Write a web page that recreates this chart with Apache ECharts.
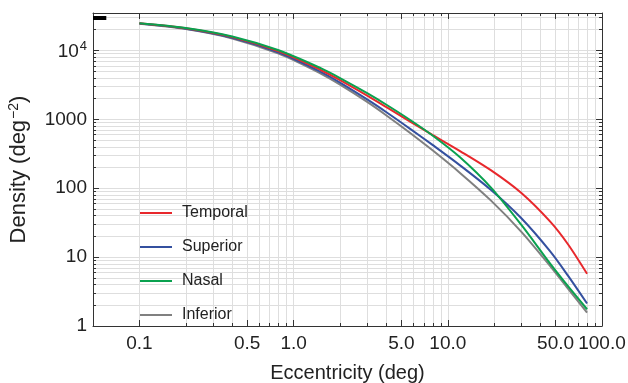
<!DOCTYPE html>
<html>
<head>
<meta charset="utf-8">
<script src="https://cdn.jsdelivr.net/npm/echarts@6/dist/echarts.min.js"></script>
<style>
  html, body { margin: 0; padding: 0; background: #ffffff; }
  #chart { width: 628px; height: 383px; }
</style>
</head>
<body>
<div id="chart"></div>
<script>
// Midget ganglion-cell receptive-field density along four meridians (deg^-2)
const eccentricity = [0.1, 0.2, 0.4, 0.8, 1.5, 2, 3, 4, 5.7, 8, 12, 19, 30, 46, 60, 80];
const temporal = [24750, 20970, 15640, 9690, 5210, 3710, 2210, 1500, 927, 590, 347, 183, 85.3, 33.0, 15.5, 5.72];
const superior = [24590, 20750, 15340, 9360, 4900, 3420, 1950, 1270, 729, 422, 215, 94.8, 36.6, 12.2, 5.43, 2.12];
const nasal = [24880, 21210, 15980, 10060, 5530, 3980, 2400, 1630, 980, 579, 282, 103, 29.3, 8.1, 3.81, 1.75];
const inferior = [24400, 20450, 14960, 8980, 4620, 3190, 1790, 1140, 635, 352, 167, 66.6, 23.3, 7.47, 3.52, 1.56];

// Peak density at the foveal centre, shown as a short bar at the left edge
const peakDensity = 29600;
const peakSpan = [0.05, 0.061];

// Axis ticks and grid lines
const xTickValues = [0.1, 0.5, 1, 5, 10, 50, 100];
const xGridValues = [0.1, 0.2, 0.3, 0.4, 0.5, 0.6, 0.7, 0.8, 0.9,
                     1, 2, 3, 4, 5, 6, 7, 8, 9,
                     10, 20, 30, 40, 50, 60, 70, 80, 90];
const yTickValues = [1, 10, 100, 1000, 10000];
const yGridValues = [2, 3, 4, 5, 6, 7, 8, 9,
                     10, 20, 30, 40, 50, 60, 70, 80, 90,
                     100, 200, 300, 400, 500, 600, 700, 800, 900,
                     1000, 2000, 3000, 4000, 5000, 6000, 7000, 8000, 9000,
                     10000, 20000, 30000];

const seriesNames = ['Temporal', 'Superior', 'Nasal', 'Inferior'];
const seriesValues = [temporal, superior, nasal, inferior];
const seriesColors = ['#e8282c', '#34509f', '#0aa14f', '#808080'];
const seriesZ = [4, 3, 5, 2];

const FONT = 'Liberation Sans, Arial, Helvetica, sans-serif';
const AXIS_COLOR = '#333333';
const TEXT_COLOR = '#222222';
const GRID_COLOR = '#dedede';

const xBase = { type: 'log', logBase: 10, min: 0.05, max: 100 };
const yBase = { type: 'log', logBase: 10, min: 1, max: 35000 };

function majorAxis(base, position, extra) {
  return Object.assign({}, base, {
    position: position,
    z: 3,
    axisLine: { show: true, lineStyle: { color: AXIS_COLOR, width: 1 } },
    axisTick: { show: true, inside: true, length: 6, lineStyle: { color: AXIS_COLOR, width: 1 } },
    axisLabel: { show: false },
    splitLine: { show: false }
  }, extra || {});
}
function minorAxis(base, position, grid, values) {
  return Object.assign({}, base, {
    position: position,
    z: grid ? 0 : 3,
    axisLine: { show: false },
    axisTick: { show: true, inside: true, length: 3, customValues: values, lineStyle: { color: AXIS_COLOR, width: 1 } },
    axisLabel: { show: false },
    splitLine: { show: grid, customValues: values, lineStyle: { color: GRID_COLOR, width: 1 } }
  });
}

const xMajorTick = { show: true, inside: true, length: 6, customValues: xTickValues, lineStyle: { color: AXIS_COLOR, width: 1 } };
const yMajorTick = { show: true, inside: true, length: 6, customValues: yTickValues, lineStyle: { color: AXIS_COLOR, width: 1 } };

const option = {
  backgroundColor: '#ffffff',
  animation: false,
  textStyle: { fontFamily: FONT },
  grid: { left: 93, right: 26, top: 13, bottom: 57, containLabel: false, outerBoundsMode: 'none' },
  legend: {
    data: seriesNames,
    orient: 'vertical',
    left: 140,
    top: 205,
    padding: 0,
    itemWidth: 32,
    itemHeight: 16,
    itemGap: 18,
    icon: 'path://M0,7 L32,7 L32,9 L0,9 Z',
    textStyle: { fontSize: 16, color: TEXT_COLOR, fontFamily: FONT, padding: [0, 0, 0, 5] }
  },
  xAxis: [
    majorAxis(xBase, 'bottom', {
      axisTick: xMajorTick,
      axisLabel: {
        show: true, customValues: xTickValues, margin: 8,
        fontSize: 19, color: TEXT_COLOR, fontFamily: FONT,
        formatter: function (v) { return Number(v).toFixed(1); }
      },
      name: 'Eccentricity (deg)',
      nameLocation: 'middle',
      nameGap: 37,
      nameTextStyle: { fontSize: 20, color: TEXT_COLOR, fontFamily: FONT }
    }),
    minorAxis(xBase, 'bottom', true, xGridValues),
    majorAxis(xBase, 'top', { axisTick: xMajorTick }),
    minorAxis(xBase, 'top', false, xGridValues)
  ],
  yAxis: [
    majorAxis(yBase, 'left', {
      axisTick: yMajorTick,
      axisLabel: {
        show: true, customValues: yTickValues, margin: 6,
        fontSize: 19, color: TEXT_COLOR, fontFamily: FONT,
        formatter: function (v) {
          return Number(v) === 10000 ? '{b|10}{s|4}' : String(Math.round(v));
        },
        rich: {
          b: { fontSize: 19, color: TEXT_COLOR, fontFamily: FONT, verticalAlign: 'bottom' },
          s: { fontSize: 13, color: TEXT_COLOR, fontFamily: FONT, verticalAlign: 'bottom', padding: [0, 0, 8, 1] }
        }
      },
      name: 'Density (deg{s|−2})',
      nameLocation: 'middle',
      nameRotate: 90,
      nameGap: 62,
      nameTextStyle: {
        fontSize: 22, color: TEXT_COLOR, fontFamily: FONT,
        rich: {
          s: { fontSize: 14, color: TEXT_COLOR, fontFamily: FONT, verticalAlign: 'bottom', padding: [0, 0, 10, 1] }
        }
      }
    }),
    minorAxis(yBase, 'left', true, yGridValues),
    majorAxis(yBase, 'right', { axisTick: yMajorTick }),
    minorAxis(yBase, 'right', false, yGridValues)
  ],
  series: seriesNames.map(function (name, i) {
    return {
      name: name,
      type: 'line',
      xAxisIndex: 0,
      yAxisIndex: 0,
      z: seriesZ[i],
      smooth: 0.3,
      symbol: 'none',
      showSymbol: false,
      lineStyle: { color: seriesColors[i], width: 2 },
      itemStyle: { color: seriesColors[i] },
      data: eccentricity.map(function (x, j) { return [x, seriesValues[i][j]]; })
    };
  }).concat([{
    name: 'peak',
    type: 'line',
    xAxisIndex: 0,
    yAxisIndex: 0,
    z: 6,
    symbol: 'none',
    silent: true,
    lineStyle: { color: '#000000', width: 4, cap: 'butt' },
    data: [[peakSpan[0], peakDensity], [peakSpan[1], peakDensity]]
  }])
};

const chart = echarts.init(document.getElementById('chart'), null, { renderer: 'canvas' });
chart.setOption(option);
</script>
</body>
</html>
